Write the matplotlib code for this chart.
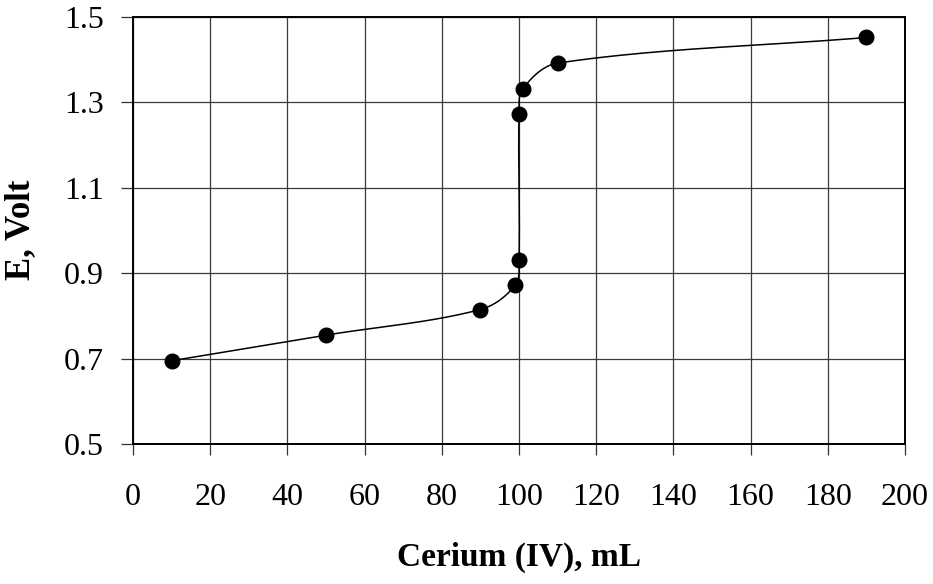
import numpy as np
import matplotlib.pyplot as plt

# titration curve: Fe(II) titrated with Ce(IV)
volume = [10, 50, 90, 99, 100, 100, 101, 110, 190]
potential = [0.695, 0.755, 0.815, 0.872, 0.932, 1.272, 1.332, 1.392, 1.452]

x_ticks = [0, 20, 40, 60, 80, 100, 120, 140, 160, 180, 200]
y_ticks = [0.5, 0.7, 0.9, 1.1, 1.3, 1.5]

# pixel scale of one data unit, so the smoothing works in screen space
SX = 772 / 200.0
SY = 427 / 1.0


def smooth_curve(xs, ys, n=40):
    # Bezier smoothing: tangent from neighbours, handles a third of the segment
    pts = np.column_stack([np.asarray(xs, float) * SX, np.asarray(ys, float) * SY])
    m = len(pts)
    dirs = []
    for i in range(m):
        a = pts[max(i - 1, 0)]
        b = pts[min(i + 1, m - 1)]
        d = b - a
        dirs.append(d / np.hypot(*d))
    out = []
    for i in range(m - 1):
        p1, p2 = pts[i], pts[i + 1]
        L = np.hypot(*(p2 - p1)) / 3.0
        c1 = p1 + dirs[i] * L
        c2 = p2 - dirs[i + 1] * L
        t = np.linspace(0, 1, n)[:, None]
        seg = ((1 - t) ** 3 * p1 + 3 * (1 - t) ** 2 * t * c1
               + 3 * (1 - t) * t ** 2 * c2 + t ** 3 * p2)
        out.append(seg)
    out = np.vstack(out)
    return out[:, 0] / SX, out[:, 1] / SY


plt.rcParams['font.family'] = ['Liberation Serif', 'DejaVu Serif']

fig = plt.figure(figsize=(9.33, 5.84), dpi=100)
ax = fig.add_axes([0.1426, 0.2397, 0.8274, 0.7312])

sx, sy = smooth_curve(volume, potential)
ax.plot(sx, sy, color='black', lw=1.1, zorder=3)
ax.plot(volume, potential, 'o', color='black', ms=10.5, zorder=4)

ax.set_xlim(0, 200)
ax.set_ylim(0.5, 1.5)
ax.set_xticks(x_ticks)
ax.set_yticks(y_ticks)
ax.set_yticklabels([f'{v:.1f}' for v in y_ticks])

ax.grid(True, color='#3a3a3a', lw=0.9)
ax.set_axisbelow(True)
for s in ax.spines.values():
    s.set_color('black')
    s.set_linewidth(1.4)

ax.tick_params(axis='x', direction='out', length=8, width=0.9, pad=20,
               labelsize=23, color='#333333')
ax.tick_params(axis='y', direction='out', length=9, width=0.9, pad=12,
               labelsize=23, color='#333333')

# axis titles
fig.text(519 / 933, 1 - 557 / 584, 'Cerium (IV), mL', fontsize=24,
         fontweight='bold', ha='center', va='center')
fig.text(21 / 933, 1 - 230 / 584, 'E, Volt', fontsize=25, fontweight='bold',
         rotation=90, ha='center', va='center')

fig.savefig('out.png', dpi=100)
